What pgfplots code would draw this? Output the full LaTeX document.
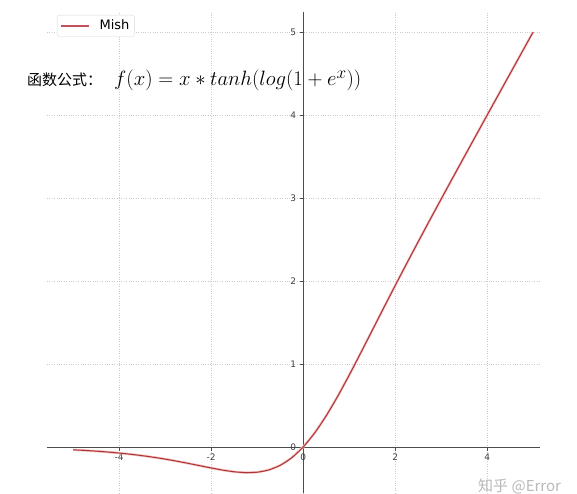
\documentclass[border=0pt]{standalone}
\usepackage{fontspec}
\setsansfont{DejaVu Sans}
\newfontfamily\cjk{Noto Sans CJK SC}
\usepackage{pgfplots}
\usepackage{pgfplotstable}
\pgfplotsset{compat=1.18}
\definecolor{mishred}{RGB}{172,52,52}
\definecolor{halo}{RGB}{242,190,190}
\definecolor{legred}{RGB}{196,80,90}
\pgfplotstableread{
x y
-5 -0.03357
-4.75 -0.04092
-4.5 -0.04971
-4.25 -0.06019
-4 -0.07259
-3.75 -0.08716
-3.5 -0.10409
-3.25 -0.12357
-3 -0.14565
-2.75 -0.17019
-2.5 -0.19682
-2.25 -0.22471
-2 -0.25250
-1.75 -0.27802
-1.5 -0.29810
-1.25 -0.30841
-1 -0.30340
-0.75 -0.27650
-0.5 -0.22074
-0.25 -0.12993
0 0
0.25 0.16957
0.5 0.37524
0.75 0.61002
1 0.86510
1.25 1.13187
1.5 1.40338
1.75 1.67493
2 1.94396
2.25 2.20946
2.5 2.47139
2.75 2.73021
3 2.98654
3.25 3.24096
3.5 3.49399
3.75 3.74604
4 3.99741
4.25 4.24832
4.5 4.49891
4.75 4.74930
5 4.99955
}\mish
\begin{document}
\begin{tikzpicture}[x=1pt,y=1pt]
\path[use as bounding box] (0,0) rectangle (577,493);
\begin{axis}[at={(47pt,0pt)}, anchor=south west, scale only axis,
  width=493pt, height=481pt,
  xmin=-5.57, xmax=5.15, ymin=-0.554, ymax=5.241,
  axis lines=middle,
  axis line style={-, black!70, line width=0.8pt},
  xtick={-4,-2,0,2,4}, ytick={0,1,2,3,4,5},
  grid=major, grid style={dotted, gray!40, line width=0.5pt},
  tick align=outside, major tick length=3.5pt,
  tick style={black!70, line width=0.6pt},
  hide obscured x ticks=false, hide obscured y ticks=false,
  /pgf/number format/assume math mode=true,
  ticklabel style={font=\sffamily\fontsize{9}{10}\selectfont, text=black!75},
  legend style={at={(0.02,0.994)}, anchor=north west, draw=gray!30,
    rounded corners=2.5pt, font=\sffamily\fontsize{13}{15}\selectfont,
    inner xsep=3pt, inner ysep=3pt},
  legend cell align=left,
  legend image code/.code={\draw[#1] (0pt,0pt) -- (28pt,0pt); \path (36pt,0pt);},
]
\addlegendimage{draw=legred, line width=1.5pt}
\addlegendentry{Mish}
\addplot[draw=halo, line width=2.4pt, forget plot] table[x=x,y=y] {\mish};
\addplot[draw=mishred, line width=1pt, smooth, forget plot] table[x=x,y=y] {\mish};
\end{axis}
\node[anchor=base west, inner sep=0] at (27,407) {\cjk\fontsize{15}{18}\selectfont 函数公式：};
\node[anchor=base west, inner sep=0] at (114,407) {\fontsize{22.8}{27}\selectfont $f(x) = x * tanh(log(1+e^x))$};
\node[anchor=base west, inner sep=0, text=gray!55] at (478,2) {\cjk\fontsize{15}{18}\selectfont 知乎 @Error};
\end{tikzpicture}
\end{document}
